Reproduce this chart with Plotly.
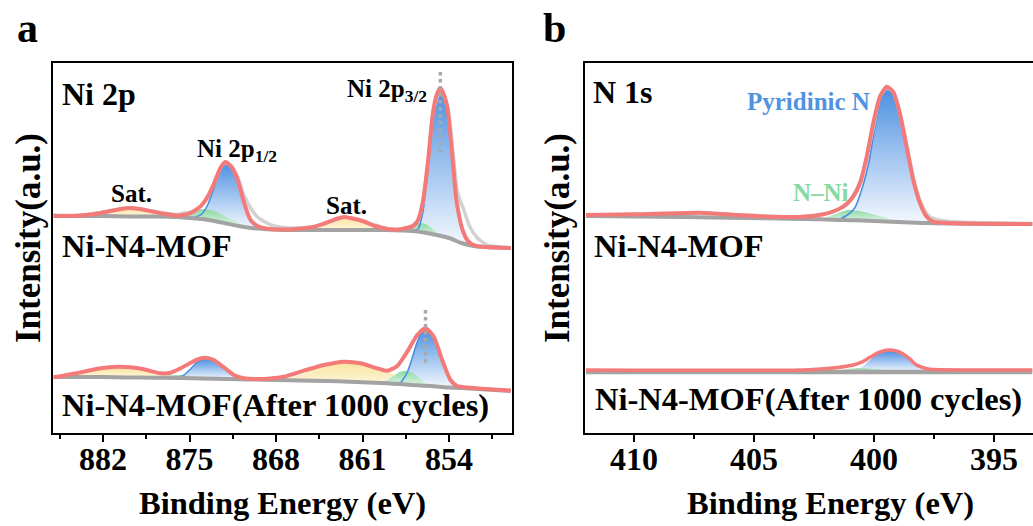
import plotly.graph_objects as go

W, H = 1033, 526
FONT = "Liberation Serif, Times New Roman, serif"

# ---------------- Panel a : Ni 2p (intensity in a.u.) ----------------
# Ni-N4-MOF (upper spectrum)
bg_a1_E = [886, 884, 882, 880, 878, 876, 875, 874, 873, 872, 871, 870, 869, 868, 867, 865, 863, 861, 859, 858, 857, 856, 855, 854, 853, 852, 851, 849]
bg_a1_I = [217, 217, 217, 216.5, 216.5, 216, 215, 214, 212, 209.5, 207, 205, 204, 203.5, 203, 203, 203, 203, 203, 202.5, 202, 200.5, 198, 195, 190, 187, 186, 185]

env_a1_E = [886, 884, 883, 882, 881, 880, 879, 878, 877, 876, 875.5, 875, 874.5, 874, 873.5, 873, 872.5, 872.1, 871.6, 871.1, 870.6, 870.1, 869.5, 868.5, 867, 866, 865, 864, 863, 862.5, 862, 861, 860, 859, 858, 857.5, 856.9, 856.5, 856.1, 855.7, 855.3, 855.0, 854.7, 854.4, 854.1, 853.7, 853.4, 852.9, 852.4, 851.8, 851, 849]
env_a1_I = [217, 217.5, 218.5, 220.5, 223, 225, 224, 221.5, 219, 217.5, 218, 219.5, 223, 228, 237, 250, 265, 271, 266, 253, 231, 214, 207, 204, 203.5, 204.5, 206, 210, 214.5, 216, 215, 212, 207, 204, 203.5, 205, 207, 213, 232, 271, 320, 338, 345, 338, 323, 273, 233, 203, 191, 187, 186, 185]

raw_a1_E = [886, 884, 882, 880, 878, 876, 875.5, 875, 874.5, 874, 873.5, 873, 872.5, 872.1, 871.6, 871.1, 870.6, 870.1, 869.5, 868.4, 867, 865, 863, 862.5, 861, 859, 858, 857, 856.5, 856.1, 855.7, 855.3, 854.7, 854.1, 853.7, 853.3, 852.8, 852.3, 851.7, 850.9, 849.8, 849]
raw_a1_I = [218, 217, 221, 225, 222, 218.5, 220, 220.5, 223, 228, 237, 250, 265, 270, 267, 256, 238, 226, 216, 208, 205, 206, 214, 216, 212, 204.5, 204, 207, 213, 232, 271, 320, 344, 326, 284, 240, 223, 206, 195, 188, 186, 185]

sat1_a1_E = [884, 883, 882, 881, 880, 879, 878, 877, 876]
sat1_a1_I = [217, 218.5, 220.5, 223, 225, 224, 221.5, 218.5, 216]
nsat_a1_E = [876, 875, 874, 873, 872, 871, 870]
nsat_a1_I = [216, 218, 224, 222, 216, 210, 205]
p12_a1_E = [875, 874.5, 874, 873.5, 873, 872.5, 872.1, 871.6, 871.1, 870.6, 870.1, 869.5, 869]
p12_a1_I = [215, 216, 219, 229, 246, 264, 271, 266, 252, 230, 212, 205.5, 204]
sat2_a1_E = [867, 866, 865, 864, 863, 862.5, 862, 861, 860, 859, 858]
sat2_a1_I = [203, 204, 206, 210, 214.5, 216, 215, 212, 207, 204, 202.5]
g32_a1_E = [858, 857.5, 857, 856.5, 856, 855.5, 855, 854.5, 854]
g32_a1_I = [202.5, 204.5, 207.5, 210, 209.5, 206, 201, 196.5, 195]
p32_a1_E = [857, 856.5, 856.1, 855.7, 855.3, 855.0, 854.7, 854.4, 854.1, 853.7, 853.4, 852.9, 852.4, 852]
p32_a1_I = [202, 204, 222, 264, 317, 338, 345, 338, 323, 273, 233, 203, 191, 187]

# Ni-N4-MOF (After 1000 cycles)
bg_a2_E = [886, 884, 882, 880, 878, 876, 875, 874, 872, 870, 868, 866, 864, 862, 860, 859, 858, 857, 856, 855, 854, 853, 851, 849]
bg_a2_I = [56, 56, 56, 55.5, 55.3, 55, 54.8, 54.5, 54, 53.5, 53, 52.5, 52, 51.3, 50.3, 49.7, 49, 48, 47.3, 46.5, 45.5, 45, 43.5, 42]

env_a2_E = [886, 885.7, 884.5, 883.55, 882.2, 880.85, 879.77, 878.7, 877.34, 876.53, 875.72, 874.9, 874.24, 873.7, 873.03, 872.22, 871.41, 870.6, 869.52, 868.5, 867.37, 865.75, 864.13, 862.51, 861.16, 859.81, 859.0, 858.19, 857.38, 856.57, 855.9, 855.23, 854.55, 853.88, 853.34, 852.26, 851, 849]
env_a2_I = [56, 56.3, 59, 61.3, 64.7, 66.3, 65.7, 63.7, 59.7, 60.3, 64.7, 70.3, 74, 75.3, 73, 65.7, 58, 54.7, 54, 54.5, 56.3, 62.3, 68, 71.3, 69.7, 64.7, 62.3, 67, 81.3, 98, 104.7, 96.3, 73, 53, 47, 45.3, 44, 42.5]

sat1_a2_E = [886, 885, 884, 883, 882, 881, 880, 879, 878, 877, 876, 875]
sat1_a2_I = [56, 57.5, 60, 63, 65, 66, 66, 64.5, 62, 59, 56.5, 54.8]
nsat_a2_E = [878, 877, 876, 875, 874]
nsat_a2_I = [55.3, 57, 58, 57, 54.5]
p12_a2_E = [876, 875.5, 875, 874.5, 874, 873.7, 873.3, 872.8, 872.2, 871.6, 871, 870.5, 870]
p12_a2_I = [55, 57.5, 63, 69.5, 73.5, 74.5, 73.5, 71, 65, 58.5, 55, 54, 53.5]
sat2_a2_E = [868, 867, 866, 865, 864, 863, 862.5, 862, 861, 860, 859, 858, 857, 856]
sat2_a2_I = [53, 55, 58.5, 63, 67.5, 70.5, 71.3, 71, 69.5, 66, 61.5, 56.5, 51.5, 47.3]
g32_a2_E = [860, 859.5, 859, 858.5, 858, 857.6, 857, 856.5, 856, 855.5, 855]
g32_a2_I = [50.3, 51, 53, 57, 61, 62.3, 60.5, 56, 51, 48, 46.5]
p32_a2_E = [858, 857.8, 857.4, 857.0, 856.6, 856.2, 855.9, 855.5, 855.2, 854.9, 854.55, 854.2, 853.9, 853.5, 853]
p32_a2_I = [49, 52, 60, 74, 90, 101, 104.5, 101, 95, 85, 72, 61, 53, 47.5, 45]

# dotted peak markers (Ni 2p3/2 position)
mark_a_E = [854.7, 855.9]
mark_a_top = [361, 123]
mark_a_bottom = [280, 70]

# ---------------- Panel b : N 1s ----------------
bg_b1_E = [412, 408, 404, 403, 402.5, 402, 401.5, 401, 400.5, 400, 399.5, 399, 398.5, 398, 397.5, 396, 393.4]
bg_b1_I = [217, 216, 214.5, 214, 213.8, 213.5, 213, 212.8, 212.5, 212, 211.5, 211, 210.5, 210, 209.8, 209.3, 209]
env_b1_E = [412, 409.9, 407.25, 405.72, 404.33, 402.94, 402.11, 401.55, 401.14, 400.86, 400.58, 400.3, 400.03, 399.75, 399.47, 399.2, 398.92, 398.64, 398.36, 398.08, 397.8, 397.53, 396.69, 393.4]
env_b1_I = [218, 218.7, 220.3, 218, 216.3, 216.3, 218.7, 223, 229, 236.3, 249.7, 276.3, 309.7, 336.3, 346.3, 341.3, 319.7, 286.3, 253, 229.7, 216.3, 211.3, 209.7, 209]
raw_b1_E = [412, 410, 407.2, 405.5, 404, 403, 402.1, 401.5, 401.1, 400.6, 400.3, 400, 399.75, 399.47, 399.2, 398.9, 398.6, 398.3, 398, 397.7, 397.3, 396.5, 395, 393.4]
raw_b1_I = [218, 218.5, 220, 218, 216.5, 216.5, 219, 223, 229, 250, 276, 309, 336, 345, 341, 318, 285, 250, 228, 217, 213, 211, 210, 209.5]
nni_b1_E = [402.5, 402, 401.5, 401.1, 400.6, 400, 399.5, 399, 398.5]
nni_b1_I = [213.8, 215.5, 220, 223, 222, 218.5, 215, 212, 210.5]
pyr_b1_E = [401.5, 401.1, 400.8, 400.5, 400.2, 400, 399.75, 399.47, 399.2, 398.92, 398.64, 398.36, 398.08, 397.8, 397.5]
pyr_b1_I = [213, 218, 225, 244, 272, 300, 330, 346, 341, 319, 286, 253, 229.7, 216.3, 209.8]

bg_b2_E = [412, 404, 402, 401, 399, 397.6, 396, 393.4]
bg_b2_I = [61, 61, 61, 61, 61, 61, 61, 61]
env_b2_E = [412, 403, 401.83, 400.86, 400.5, 400.17, 399.8, 399.4, 399.1, 398.78, 398.5, 398.22, 397.9, 397.67, 396, 393.4]
env_b2_I = [63, 63, 64.7, 68, 71, 75.7, 80.5, 83, 82.3, 79, 74, 68, 65, 63.7, 63, 63]
nni_b2_E = [402, 401.5, 401, 400.5, 400, 399.5, 399]
nni_b2_I = [61, 62.8, 64.3, 64.8, 64, 63, 61]
pyr_b2_E = [401, 400.5, 400.17, 399.8, 399.4, 399.1, 398.78, 398.5, 398.22, 397.9, 397.6]
pyr_b2_I = [62, 66, 73, 79.5, 82.5, 81.5, 78, 73, 67, 63.5, 61]

tick_a = [882, 875, 868, 861, 854]
tick_b = [410, 405, 400, 395]

# ---------------- styles ----------------
BLUE = "#4A8FE0"
GREEN = "#8DD8A4"
YELLOW = "#F9E29A"
RED = "#F47A7A"
GRAY = "#A3A3A3"
LGRAY = "#D2D2D2"

fig = go.Figure()


def fill(E, I, bgE, bgI, top_color, bottom_color, xa, ya):
    lo, hi = min(E), max(E)
    base = sorted([(e, v) for e, v in zip(bgE, bgI) if lo <= e <= hi])
    xs = list(E) + [e for e, _ in base]
    ys = list(I) + [v for _, v in base]
    fig.add_trace(go.Scatter(
        x=xs, y=ys, mode="lines", fill="toself",
        line=dict(width=0, shape="spline", smoothing=0.6),
        fillgradient=dict(type="vertical", colorscale=[[0, bottom_color], [1, top_color]]),
        hoverinfo="skip", xaxis=xa, yaxis=ya))


def curve(E, I, color, width, xa, ya, dash=None):
    fig.add_trace(go.Scatter(x=E, y=I, mode="lines",
                             line=dict(color=color, width=width, shape="spline", smoothing=0.6, dash=dash),
                             hoverinfo="skip", xaxis=xa, yaxis=ya))


YB = "#FFF8E2"
GB = "#E6F7EC"
BB = "#F4F8FE"

# panel a upper
fill(sat1_a1_E, sat1_a1_I, bg_a1_E, bg_a1_I, YELLOW, YB, "x", "y")
fill(sat2_a1_E, sat2_a1_I, bg_a1_E, bg_a1_I, YELLOW, YB, "x", "y")
fill(p12_a1_E, p12_a1_I, bg_a1_E, bg_a1_I, BLUE, BB, "x", "y")
fill(p32_a1_E, p32_a1_I, bg_a1_E, bg_a1_I, BLUE, BB, "x", "y")
fill(nsat_a1_E, nsat_a1_I, bg_a1_E, bg_a1_I, GREEN, GB, "x", "y")
fill(g32_a1_E, g32_a1_I, bg_a1_E, bg_a1_I, GREEN, GB, "x", "y")
curve(p12_a1_E, p12_a1_I, BLUE, 1.6, "x", "y")
curve(p32_a1_E, p32_a1_I, BLUE, 1.6, "x", "y")
curve(raw_a1_E, raw_a1_I, LGRAY, 3.5, "x", "y")
curve(bg_a1_E, bg_a1_I, GRAY, 4, "x", "y")
curve(env_a1_E, env_a1_I, RED, 4, "x", "y")

# panel a lower
fill(sat1_a2_E, sat1_a2_I, bg_a2_E, bg_a2_I, YELLOW, YB, "x", "y")
fill(sat2_a2_E, sat2_a2_I, bg_a2_E, bg_a2_I, YELLOW, YB, "x", "y")
fill(p12_a2_E, p12_a2_I, bg_a2_E, bg_a2_I, BLUE, BB, "x", "y")
fill(p32_a2_E, p32_a2_I, bg_a2_E, bg_a2_I, BLUE, BB, "x", "y")
fill(nsat_a2_E, nsat_a2_I, bg_a2_E, bg_a2_I, GREEN, GB, "x", "y")
fill(g32_a2_E, g32_a2_I, bg_a2_E, bg_a2_I, GREEN, GB, "x", "y")
curve(p12_a2_E, p12_a2_I, BLUE, 1.6, "x", "y")
curve(p32_a2_E, p32_a2_I, BLUE, 1.6, "x", "y")
curve(bg_a2_E, bg_a2_I, GRAY, 4, "x", "y")
curve(env_a2_E, env_a2_I, RED, 4, "x", "y")

for e, t, b in zip(mark_a_E, mark_a_top, mark_a_bottom):
    curve([e, e], [t, b], "#A8A8A8", 3.5, "x", "y", dash="dot")

# panel b
fill(pyr_b1_E, pyr_b1_I, bg_b1_E, bg_b1_I, BLUE, BB, "x2", "y2")
fill(nni_b1_E, nni_b1_I, bg_b1_E, bg_b1_I, GREEN, GB, "x2", "y2")
curve(pyr_b1_E, pyr_b1_I, BLUE, 1.6, "x2", "y2")
curve(raw_b1_E, raw_b1_I, LGRAY, 3.5, "x2", "y2")
curve(bg_b1_E, bg_b1_I, GRAY, 4, "x2", "y2")
curve(env_b1_E, env_b1_I, RED, 4, "x2", "y2")

fill(pyr_b2_E, pyr_b2_I, bg_b2_E, bg_b2_I, BLUE, BB, "x2", "y2")
fill(nni_b2_E, nni_b2_I, bg_b2_E, bg_b2_I, GREEN, GB, "x2", "y2")
curve(bg_b2_E, bg_b2_I, GRAY, 4.5, "x2", "y2")
curve(env_b2_E, env_b2_I, RED, 3.5, "x2", "y2")

tickfont = dict(family=FONT, size=32, color="black", weight="bold")
common_x = dict(ticks="outside", ticklen=7, tickwidth=2, tickcolor="black", showline=True,
                linecolor="black", linewidth=2, mirror=True, showgrid=False, zeroline=False,
                tickfont=tickfont, tickmode="array", ticklabelstandoff=-10)
common_y = dict(range=[0, 370], showticklabels=False, ticks="", showline=True, linecolor="black",
                linewidth=2, showgrid=False, zeroline=False,
                domain=[(H - 433) / H, (H - 63) / H])

fig.update_layout(
    width=W, height=H, margin=dict(l=0, r=0, t=0, b=0),
    plot_bgcolor="white", paper_bgcolor="white", showlegend=False,
    xaxis=dict(domain=[53 / W, 512 / W], range=[886.05, 848.9], anchor="y",
               tickvals=tick_a, ticktext=[str(t) for t in tick_a],
               minor=dict(ticks="outside", ticklen=4, tickwidth=2, tickcolor="black",
                          tickmode="linear", tick0=885.5, dtick=7, showgrid=False),
               **common_x),
    yaxis=dict(anchor="x", mirror=True, **common_y),
    xaxis2=dict(domain=[585 / W, 1.0], range=[412.04, 393.37], anchor="y2",
                tickvals=tick_b, ticktext=[str(t) for t in tick_b],
                minor=dict(ticks="outside", ticklen=4, tickwidth=2, tickcolor="black",
                           tickmode="linear", tick0=407.5, dtick=5, showgrid=False),
                **common_x),
    yaxis2=dict(anchor="x2", mirror=False, **common_y),
)


def ann(text, px, py, size, color="black", xanchor="center", angle=0):
    fig.add_annotation(text=text, x=px / W, y=1 - py / H, xref="paper", yref="paper",
                       showarrow=False, xanchor=xanchor, yanchor="middle", textangle=angle,
                       font=dict(family=FONT, size=size, color=color, weight="bold"))


ann("a", 27, 28, 42)
ann("b", 554, 28, 42)
ann("Intensity(a.u.)", 28, 238, 35, angle=-90)
ann("Intensity(a.u.)", 557, 238, 35, angle=-90)
ann("Binding Energy (eV)", 282, 503, 32.5)
ann("Binding Energy (eV)", 830, 503, 32.5)

ann("Ni 2p", 60, 94, 32, xanchor="left")
ann("Ni-N4-MOF", 60, 246, 32.5, xanchor="left")
ann("Ni-N4-MOF(After 1000 cycles)", 60, 405, 32.5, xanchor="left")
ann("Ni 2p<sub>3/2</sub>", 387, 90, 25)
ann("Ni 2p<sub>1/2</sub>", 237, 150, 25)
ann("Sat.", 131, 194, 25)
ann("Sat.", 346, 205, 25)

ann("N 1s", 591, 92, 32, xanchor="left")
ann("Ni-N4-MOF", 592, 246, 32.5, xanchor="left")
ann("Ni-N4-MOF(After 1000 cycles)", 593, 399, 32.5, xanchor="left")
ann("Pyridinic N", 808, 101, 25, color="#4F93E0")
ann("N\u2013Ni", 821, 192, 25, color="#86D9A0")

fig.write_html("out.html")
